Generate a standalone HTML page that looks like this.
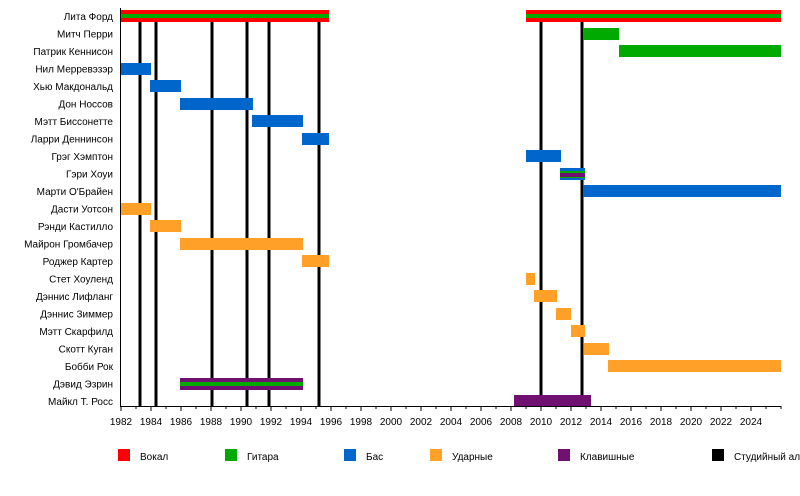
<!DOCTYPE html>
<html><head><meta charset="utf-8"><style>
html,body{margin:0;padding:0;background:#fff;}
svg{display:block;font-family:"Liberation Sans",Arial,sans-serif;font-size:10px;}
</style></head><body>
<svg width="800" height="496" xmlns="http://www.w3.org/2000/svg">
<g fill="#000" text-anchor="end">
<text x="113" y="20">Лита Форд</text>
<text x="113" y="37.5">Митч Перри</text>
<text x="113" y="55">Патрик Кеннисон</text>
<text x="113" y="72.5">Нил Мерревэзэр</text>
<text x="113" y="90">Хью Макдональд</text>
<text x="113" y="107.5">Дон Носсов</text>
<text x="113" y="125">Мэтт Биссонетте</text>
<text x="113" y="142.5">Ларри Деннинсон</text>
<text x="113" y="160">Грэг Хэмптон</text>
<text x="113" y="177.5">Гэри Хоуи</text>
<text x="113" y="195">Марти О'Брайен</text>
<text x="113" y="212.5">Дасти Уотсон</text>
<text x="113" y="230">Рэнди Кастилло</text>
<text x="113" y="247.5">Майрон Громбачер</text>
<text x="113" y="265">Роджер Картер</text>
<text x="113" y="282.5">Стет Хоуленд</text>
<text x="113" y="300">Дэннис Лифланг</text>
<text x="113" y="317.5">Дэннис Зиммер</text>
<text x="113" y="335">Мэтт Скарфилд</text>
<text x="113" y="352.5">Скотт Куган</text>
<text x="113" y="370">Бобби Рок</text>
<text x="113" y="387.5">Дэвид Эзрин</text>
<text x="113" y="405">Майкл Т. Росс</text>
</g>
<g stroke="#000" stroke-width="3">
<line x1="140" y1="22" x2="140" y2="406"/>
<line x1="156" y1="22" x2="156" y2="406"/>
<line x1="212" y1="22" x2="212" y2="406"/>
<line x1="247" y1="22" x2="247" y2="406"/>
<line x1="269" y1="22" x2="269" y2="406"/>
<line x1="319" y1="22" x2="319" y2="406"/>
<line x1="541" y1="22" x2="541" y2="406"/>
<line x1="582" y1="22" x2="582" y2="406"/>
</g>
<!-- bars -->
<rect x="121" y="10" width="208" height="12" fill="#ff0000"/>
<rect x="121" y="14" width="208" height="4" fill="#00aa00"/>
<rect x="526" y="10" width="255" height="12" fill="#ff0000"/>
<rect x="526" y="14" width="255" height="4" fill="#00aa00"/>
<rect x="583" y="28" width="36" height="12" fill="#00aa00"/>
<rect x="619" y="45" width="162" height="12" fill="#00aa00"/>
<g fill="#0066cc">
<rect x="121" y="63" width="30" height="12"/>
<rect x="150" y="80" width="31" height="12"/>
<rect x="180" y="98" width="73" height="12"/>
<rect x="252" y="115" width="51" height="12"/>
<rect x="302" y="133" width="27" height="12"/>
<rect x="526" y="150" width="35" height="12"/>
<rect x="560" y="168" width="25" height="12"/>
<rect x="583" y="185" width="198" height="12"/>
</g>
<rect x="560" y="171" width="25" height="2" fill="#00aa00"/>
<rect x="560" y="173" width="25" height="4" fill="#701070"/>
<rect x="560" y="177" width="25" height="1" fill="#00aa00"/>
<g fill="#ffa028">
<rect x="121" y="203" width="30" height="12"/>
<rect x="150" y="220" width="31" height="12"/>
<rect x="180" y="238" width="123" height="12"/>
<rect x="302" y="255" width="27" height="12"/>
<rect x="526" y="273" width="9" height="12"/>
<rect x="534" y="290" width="23" height="12"/>
<rect x="556" y="308" width="15" height="12"/>
<rect x="571" y="325" width="14" height="12"/>
<rect x="584" y="343" width="25" height="12"/>
<rect x="608" y="360" width="173" height="12"/>
</g>
<rect x="180" y="378" width="123" height="12" fill="#701070"/>
<rect x="180" y="382" width="123" height="4" fill="#00aa00"/>
<rect x="514" y="395" width="77" height="12" fill="#701070"/>
<!-- axis -->
<line x1="121" y1="406.5" x2="781" y2="406.5" stroke="#000" stroke-width="1"/>
<line x1="120.5" y1="8" x2="120.5" y2="407" stroke="#000" stroke-width="1"/>
<g stroke="#000" stroke-width="1">
<path d="M121 406v5M136 406v3M151 406v5M166 406v3M181 406v5M196 406v3M211 406v5M226 406v3M241 406v5M256 406v3M271 406v5M286 406v3M301 406v5M316 406v3M331 406v5M346 406v3M361 406v5M376 406v3M391 406v5M406 406v3M421 406v5M436 406v3M451 406v5M466 406v3M481 406v5M496 406v3M511 406v5M526 406v3M541 406v5M556 406v3M571 406v5M586 406v3M601 406v5M616 406v3M631 406v5M646 406v3M661 406v5M676 406v3M691 406v5M706 406v3M721 406v5M736 406v3M751 406v5M766 406v3M781 406v3"/>
</g>
<g text-anchor="middle" fill="#000">
<text x="121" y="425">1982</text><text x="151" y="425">1984</text><text x="181" y="425">1986</text><text x="211" y="425">1988</text><text x="241" y="425">1990</text><text x="271" y="425">1992</text><text x="301" y="425">1994</text><text x="331" y="425">1996</text><text x="361" y="425">1998</text><text x="391" y="425">2000</text><text x="421" y="425">2002</text><text x="451" y="425">2004</text><text x="481" y="425">2006</text><text x="511" y="425">2008</text><text x="541" y="425">2010</text><text x="571" y="425">2012</text><text x="601" y="425">2014</text><text x="631" y="425">2016</text><text x="661" y="425">2018</text><text x="691" y="425">2020</text><text x="721" y="425">2022</text><text x="751" y="425">2024</text>
</g>
<!-- legend -->
<rect x="118" y="449" width="12" height="12" fill="#ff0000"/><text x="140" y="460">Вокал</text>
<rect x="225" y="449" width="12" height="12" fill="#00aa00"/><text x="247" y="460">Гитара</text>
<rect x="344" y="449" width="12" height="12" fill="#0066cc"/><text x="366" y="460">Бас</text>
<rect x="430" y="449" width="12" height="12" fill="#ffa028"/><text x="452" y="460">Ударные</text>
<rect x="558" y="449" width="12" height="12" fill="#701070"/><text x="580" y="460">Клавишные</text>
<rect x="712" y="449" width="12" height="12" fill="#000"/><text x="734" y="460">Студийный альбом</text>
</svg>
</body></html>
